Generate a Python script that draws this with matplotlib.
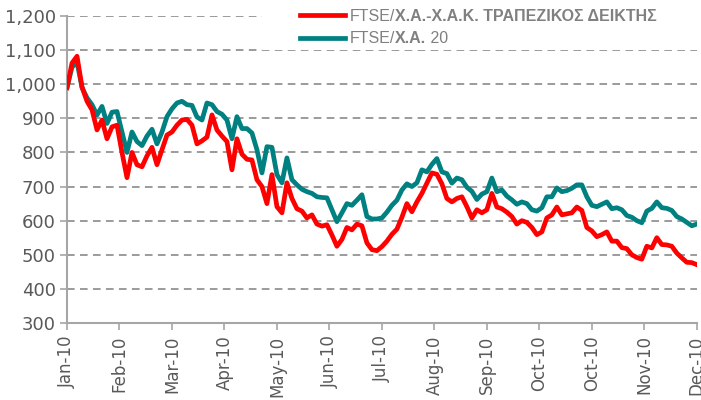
import numpy as np
import matplotlib.pyplot as plt
from matplotlib.ticker import FuncFormatter
from matplotlib.patches import Rectangle

plt.rcParams['font.family'] = ['DejaVu Sans']

# τιμές δεικτών (ανάγνωση από το διάγραμμα, περίπου ανά 2 συνεδριάσεις)
trapezikos = [990, 1062, 1082, 992, 950, 925, 866, 895, 840, 875, 880, 800, 726, 800, 764, 758,
              790, 815, 764, 808, 851, 860, 880, 895, 897, 880, 825, 834, 845, 910, 866, 848,
              832, 749, 840, 795, 780, 778, 720, 700, 650, 735, 641, 623, 711, 665, 635, 628,
              608, 617, 590, 584, 588, 558, 525, 545, 580, 573, 590, 585, 535, 515, 512, 524,
              540, 560, 575, 610, 650, 626, 655, 680, 710, 740, 736, 708, 665, 655, 665, 670,
              641, 608, 632, 623, 632, 680, 640, 635, 625, 612, 590, 600, 595, 580, 559, 567,
              608, 617, 640, 617, 620, 623, 640, 630, 580, 570, 553, 559, 567, 540, 540, 521,
              518, 500, 492, 487, 525, 520, 550, 530, 529, 525, 505, 491, 478, 477, 471]
ftse20 = [990, 1050, 1065, 990, 960, 940, 910, 935, 885, 918, 920, 860, 800, 860, 832, 820,
          848, 868, 825, 860, 905, 928, 945, 950, 940, 938, 904, 895, 945, 940, 920, 912,
          895, 840, 905, 870, 870, 857, 808, 740, 817, 815, 735, 711, 784, 720, 705, 692,
          685, 680, 670, 668, 667, 632, 597, 623, 650, 645, 660, 676, 612, 605, 605, 608,
          625, 645, 660, 690, 708, 700, 711, 749, 743, 765, 782, 743, 738, 710, 725, 720,
          698, 686, 662, 678, 685, 725, 685, 690, 672, 661, 648, 655, 650, 632, 628, 638,
          670, 670, 696, 685, 688, 695, 705, 705, 670, 645, 641, 648, 655, 635, 638, 632,
          615, 610, 600, 594, 628, 636, 655, 638, 636, 630, 612, 605, 595, 585, 590]
mines = ['Jan-10', 'Feb-10', 'Mar-10', 'Apr-10', 'May-10', 'Jun-10', 'Jul-10',
         'Aug-10', 'Sep-10', 'Oct-10', 'Oct-10', 'Nov-10', 'Dec-10']

x = np.arange(len(trapezikos))
xt = np.linspace(0, len(x) - 1, len(mines))

fig = plt.figure(figsize=(7.01, 4.0), dpi=100)
ax = fig.add_axes([0.0956, 0.1925, 0.8984, 0.7675])

grid_c = '#808080'
for v in range(400, 1201, 100):
    ax.axhline(v, color=grid_c, linestyle=(0, (5, 3.5)), linewidth=1.1, zorder=0)

ax.plot(x, trapezikos, color='#FF0000', linewidth=3.4, label='FTSE/', zorder=3)
ax.plot(x, ftse20, color='#008080', linewidth=3.4, label='FTSE/', zorder=2)

ax.set_ylim(300, 1200)
ax.set_xlim(0, len(x) - 1)
ax.set_yticks(range(300, 1201, 100))
ax.yaxis.set_major_formatter(FuncFormatter(lambda v, p: f'{int(v):,}'))
ax.set_xticks(xt)
ax.set_xticklabels(mines, rotation=90)

for s in ['top', 'right']:
    ax.spines[s].set_visible(False)
for s in ['left', 'bottom']:
    ax.spines[s].set_color('#A6A6A6')
    ax.spines[s].set_linewidth(1.5)
ax.tick_params(axis='both', colors='#A6A6A6', labelcolor='#595959', width=1.2, length=5)
ax.tick_params(axis='y', labelsize=13, pad=3)
ax.tick_params(axis='x', labelsize=12, pad=4)

# λευκό φόντο πίσω από το υπόμνημα (κρύβει τις γραμμές πλέγματος)
ax.add_patch(Rectangle((262 / 701, 1 - 50 / 400), 1, 50 / 400,
                       transform=fig.transFigure, facecolor='white',
                       edgecolor='none', zorder=1, clip_on=False))

leg_c = '#808080'
lfs = 11.5
leg = ax.legend(loc='upper left', bbox_to_anchor=(300 / 701, 1 - 9 / 400),
                bbox_transform=fig.transFigure, frameon=False,
                handlelength=2.8, handletextpad=0.31, labelspacing=0.45,
                borderpad=0, borderaxespad=0, prop={'family': 'Liberation Sans', 'size': lfs})
leg.set_zorder(5)
texts = leg.get_texts()
for t in texts:
    t.set_color(leg_c)

# έντονο τμήμα των ετικετών
fig.canvas.draw()
r = fig.canvas.get_renderer()
W, H = fig.bbox.width, fig.bbox.height
kw = dict(va='bottom', ha='left', fontsize=lfs, color=leg_c, family='Liberation Sans')
b0 = texts[0].get_window_extent(r)
fig.text(b0.x1 / W, b0.y0 / H, 'Χ.Α.-Χ.Α.Κ. ΤΡΑΠΕΖΙΚΟΣ ΔΕΙΚΤΗΣ', fontweight='bold', **kw)
b1 = texts[1].get_window_extent(r)
t2 = fig.text(b1.x1 / W, b1.y0 / H, 'Χ.Α.', fontweight='bold', **kw)
b2 = t2.get_window_extent(r)
fig.text(b2.x1 / W, b1.y0 / H, ' 20', **kw)

plt.savefig('out.png', dpi=100)
